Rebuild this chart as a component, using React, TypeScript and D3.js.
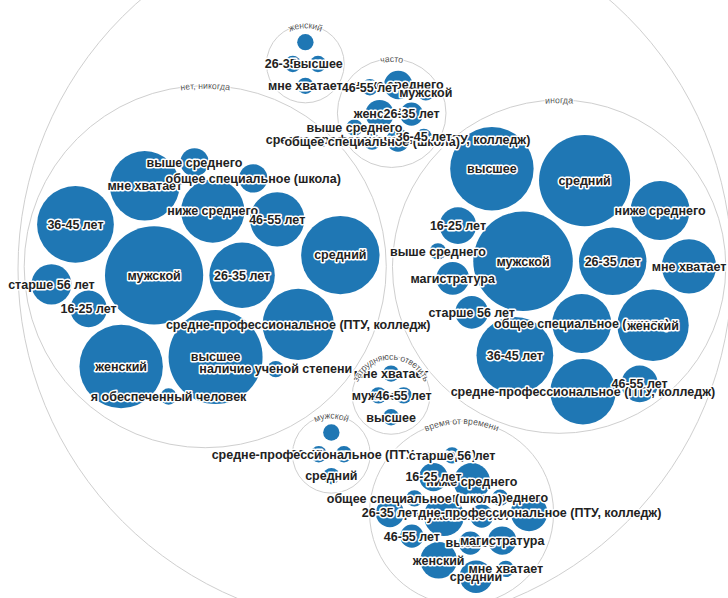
import React, { useMemo } from "react";
import * as d3 from "d3";

const groupNames = [
  "нет, никогда",
  "иногда",
  "часто",
  "затрудняюсь ответить",
  "мужской",
  "время от времени",
  "женский",
];

const neverLabels = [
  "мужской", "26-35 лет", "ниже среднего", "высшее", "мне хватает", "женский",
  "46-55 лет", "средне-профессиональное (ПТУ, колледж)", "36-45 лет", "16-25 лет",
  "выше среднего", "средний", "общее специальное (школа)", "старше 56 лет",
  "я обеспеченный человек", "наличие ученой степени",
];
const neverValues = [36, 16, 15, 33, 18, 26, 11, 19, 22, 5, 3, 23, 3, 6, 1, 1];

const sometimesLabels = [
  "мужской", "26-35 лет", "средний", "общее специальное (школа)", "36-45 лет",
  "высшее", "женский", "ниже среднего", "старше 56 лет", "16-25 лет",
  "средне-профессиональное (ПТУ, колледж)", "мне хватает", "магистратура",
  "46-55 лет", "выше среднего",
];
const sometimesValues = [37, 17, 31, 13, 22, 26, 19, 13, 4, 5, 16, 11, 4, 5, 1];

const oftenLabels = [
  "женский", "26-35 лет", "ниже среднего", "средне-профессиональное (ПТУ, колледж)",
  "общее специальное (школа)", "46-55 лет", "36-45 лет", "мужской", "выше среднего",
];
const oftenValues = [3, 2, 3, 2, 1, 1, 1, 1, 1];

const hardLabels = ["мужской", "46-55 лет", "мне хватает", "высшее"];
const hardValues = [1, 1, 1, 1];

const maleLabels = ["36-45 лет", "средне-профессиональное (ПТУ, колледж)", "", "средний"];
const maleValues = [1, 1, 1, 1];

const fromTimeLabels = [
  "мужской", "36-45 лет", "ниже среднего", "высшее", "женский", "16-25 лет",
  "магистратура", "выше среднего", "46-55 лет", "общее специальное (школа)", "средний",
  "средне-профессиональное (ПТУ, колледж)", "26-35 лет", "мне хватает", "старше 56 лет",
];
const fromTimeValues = [6, 2, 5, 2, 5, 3, 3, 1, 2, 1, 4, 5, 3, 1, 1];

const femaleLabels = ["26-35 лет", "высшее", "", "мне хватает"];
const femaleValues = [1, 1, 1, 1];

const groupLabels = [neverLabels, sometimesLabels, oftenLabels, hardLabels, maleLabels, fromTimeLabels, femaleLabels];
const groupValues = [neverValues, sometimesValues, oftenValues, hardValues, maleValues, fromTimeValues, femaleValues];

type Datum = { name: string; value?: number; children?: Datum[] };

const W = 728;
const H = 598;
const DIAM = 714;
const CX = 375;
const CY = 269;

export default function App() {
  const root = useMemo(() => {
    const data: Datum = {
      name: "root",
      children: groupNames.map((g, i) => ({
        name: g,
        children: groupLabels[i].map((n, j) => ({ name: n, value: groupValues[i][j] })),
      })),
    };
    const h = d3.hierarchy<Datum>(data).sum((d) => d.value || 0);
    return d3
      .pack<Datum>()
      .size([DIAM, DIAM])
      .padding((d) => (d.depth === 1 && (d.children ? d.children.length : 0) <= 4 ? 10 : 7))(h);
  }, []);

  const nodes = root.descendants();
  const groups = nodes.filter((d) => d.depth === 1);
  const leaves = root.leaves();
  // the layout is drawn mirrored top-to-bottom
  const fy = (y: number) => DIAM - y;

  return (
    <svg
      width={W}
      height={H}
      style={{ position: "absolute", left: 0, top: 0, background: "#fff" }}
    >
      <g transform={`translate(${CX - DIAM / 2},${CY - DIAM / 2})`}>
        {nodes.map((d, i) => (
          <circle
            key={"c" + i}
            cx={d.x}
            cy={fy(d.y)}
            r={d.r}
            fill={d.children ? "none" : "#1f77b4"}
            stroke={d.children ? "#cfcfcf" : "none"}
            strokeWidth={1}
          />
        ))}
        <defs>
          {groups.map((d, i) => (
            <path
              key={"p" + i}
              id={"arc" + i}
              d={`M ${d.x - d.r},${fy(d.y)} A ${d.r},${d.r} 0 1,1 ${d.x + d.r},${fy(d.y)} A ${d.r},${d.r} 0 1,1 ${d.x - d.r},${fy(d.y)}`}
            />
          ))}
        </defs>
        {leaves.map((d, i) => (
          <text
            key={"t" + i}
            x={d.x}
            y={fy(d.y)}
            dy="0.35em"
            textAnchor="middle"
            fontFamily="'Liberation Sans', Arial, sans-serif"
            fontSize={12.5}
            fontWeight={600}
            fill="#222"
            stroke="#fff"
            strokeWidth={3}
            strokeLinejoin="round"
            paintOrder="stroke"
          >
            {d.data.name}
          </text>
        ))}
        {groups.map((d, i) => (
          <text
            key={"g" + i}
            dy="0.35em"
            fontFamily="'Liberation Sans', Arial, sans-serif"
            fontSize={9}
            fill="#555"
            stroke="#fff"
            strokeWidth={2}
            paintOrder="stroke"
          >
            <textPath href={"#arc" + i} startOffset="25%" textAnchor="middle">
              {d.data.name}
            </textPath>
          </text>
        ))}
      </g>
    </svg>
  );
}
